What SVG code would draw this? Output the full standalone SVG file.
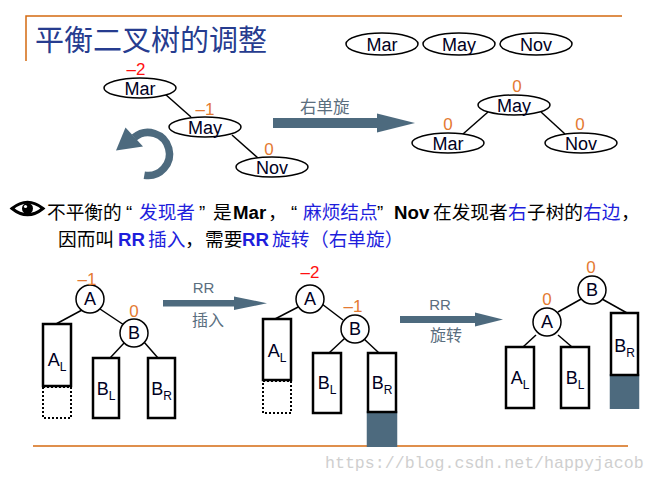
<svg xmlns="http://www.w3.org/2000/svg" width="655" height="480" viewBox="0 0 655 480">
<style>
.cjk{font-family:"Noto Sans CJK SC","Liberation Sans",sans-serif}
.lat{font-family:"Liberation Sans","Noto Sans CJK SC",sans-serif}
.ell{fill:#fff;stroke:#000;stroke-width:1.5}
.cir{fill:#fff;stroke:#000;stroke-width:1.5}
.box{fill:#fff;stroke:#000;stroke-width:2.5}
.dot{fill:none;stroke:#000;stroke-width:2;stroke-dasharray:2 2}
.fillbox{fill:#4D6A7E}
.edge{stroke:#000;stroke-width:1.5;fill:none}
.nm{font-family:"Liberation Sans",sans-serif;font-size:18px;fill:#000022;text-anchor:middle}
.bal{font-family:"Liberation Sans",sans-serif;font-size:17px;text-anchor:middle}
.red{fill:#FF1010}
.org{fill:#E47A32}
.lbl{font-family:"Liberation Sans",sans-serif;font-size:18px;fill:#000022;text-anchor:middle}
.sub{font-size:12px}
.arr{fill:#4D6A7E}
.arrtxt{fill:#5A6E7E}
.orl{stroke:#D46A10;stroke-width:1.5;fill:none}
.t{font-size:18.7px}
.k{fill:#000}
.b{fill:#1E1EDC}
.bold{font-weight:bold}
</style>
<rect width="655" height="480" fill="#fff"/>

<!-- frame lines -->
<path class="orl" d="M26,61 V16 H622"/>
<path class="orl" d="M33,446 H628"/>

<!-- title -->
<text id="title" class="cjk" x="35" y="51" font-size="29" fill="#263C8F">平衡二叉树的调整</text>

<!-- top legend -->
<g id="legend-mar"><ellipse class="ell" cx="382" cy="44" rx="36" ry="11"/><text class="nm" x="382" y="51">Mar</text></g>
<g id="legend-may"><ellipse class="ell" cx="459" cy="44" rx="36" ry="11"/><text class="nm" x="459" y="51">May</text></g>
<g id="legend-nov"><ellipse class="ell" cx="536" cy="44" rx="36" ry="11"/><text class="nm" x="536" y="51">Nov</text></g>

<!-- connectors -->
<g id="connectors">
  <line class="edge" x1="165" y1="94" x2="191" y2="117"/>
  <line class="edge" x1="232" y1="135" x2="258" y2="158"/>
  <line class="edge" x1="488" y1="112" x2="463" y2="134"/>
  <line class="edge" x1="541" y1="112" x2="565" y2="134"/>
  <line class="edge" x1="82" y1="310" x2="56" y2="324"/>
  <line class="edge" x1="100" y1="309" x2="124" y2="325"/>
  <line class="edge" x1="125" y1="342" x2="110" y2="358"/>
  <line class="edge" x1="144" y1="342" x2="158" y2="358"/>
  <line class="edge" x1="302" y1="305" x2="275" y2="319"/>
  <line class="edge" x1="322" y1="304" x2="343" y2="320"/>
  <line class="edge" x1="345" y1="338" x2="329" y2="353"/>
  <line class="edge" x1="363" y1="338" x2="379" y2="353"/>
  <line class="edge" x1="583" y1="298" x2="558" y2="312"/>
  <line class="edge" x1="602" y1="299" x2="627" y2="313"/>
  <line class="edge" x1="536" y1="335" x2="523" y2="347"/>
  <line class="edge" x1="558" y1="335" x2="572" y2="347"/>
</g>

<!-- left tree (before) -->
<g id="l-mar"><ellipse class="ell" cx="140" cy="88" rx="36" ry="10"/><text class="nm" x="140" y="95">Mar</text><text class="bal red" x="136" y="75">–2</text></g>
<g id="l-may"><ellipse class="ell" cx="205" cy="127" rx="36" ry="10"/><text class="nm" x="205" y="134">May</text><text class="bal org" x="205" y="115">–1</text></g>
<g id="l-nov"><ellipse class="ell" cx="272" cy="167" rx="36" ry="10"/><text class="nm" x="272" y="174">Nov</text><text class="bal org" x="269" y="155">0</text></g>

<!-- rotate icon -->
<g id="rotate-icon">
  <path d="M134.2,137.5 A21.5,21.5 0 1 1 144.3,175.2" fill="none" stroke="#4D6A7E" stroke-width="7.5"/>
  <polygon class="arr" points="125.5,127.5 143,146.5 116,150.5"/>
</g>

<!-- arrow right single rotation -->
<g id="arrow-rot">
  <rect class="arr" x="273" y="118" width="105" height="10"/>
  <polygon class="arr" points="377,113.5 415,123 377,132.5"/>
  <text class="cjk arrtxt" x="300" y="113" font-size="16.5">右单旋</text>
</g>

<!-- right tree (after) -->
<g id="r-may"><ellipse class="ell" cx="514" cy="105" rx="36" ry="10"/><text class="nm" x="514" y="112">May</text><text class="bal org" x="517" y="92">0</text></g>
<g id="r-mar"><ellipse class="ell" cx="448" cy="143" rx="36" ry="10"/><text class="nm" x="448" y="150">Mar</text><text class="bal org" x="448" y="130">0</text></g>
<g id="r-nov"><ellipse class="ell" cx="581" cy="143" rx="36" ry="10"/><text class="nm" x="581" y="150">Nov</text><text class="bal org" x="580" y="130">0</text></g>

<!-- eye icon -->
<g id="eye">
  <path d="M12,208.5 Q27.5,196 43,208.5 Q27.5,221 12,208.5 Z" fill="#fff" stroke="#000" stroke-width="3"/>
  <circle cx="27.5" cy="208.5" r="5.5" fill="#000"/>
  <circle cx="25.5" cy="206.5" r="1.6" fill="#fff"/>
</g>

<!-- explanation text -->
<g id="explain" class="t">
  <text class="cjk k" x="47" y="218.5">不平衡的</text>
  <text class="lat k" x="126" y="218.5">“</text>
  <text class="cjk b" x="139" y="218.5">发现者</text>
  <text class="lat k" x="199" y="218.5">”</text>
  <text class="cjk k" x="213" y="218.5">是</text>
  <text class="lat k bold" x="233" y="218.5">Mar</text>
  <text class="cjk k" x="268" y="218.5">，</text>
  <text class="lat k" x="291" y="218.5">“</text>
  <text class="cjk b" x="303" y="218.5">麻烦结点</text>
  <text class="lat k" x="377" y="218.5">”</text>
  <text class="lat k bold" x="394" y="218.5">Nov</text>
  <text class="cjk k" x="433" y="218.5">在发现者</text>
  <text class="cjk b" x="508" y="218.5">右</text>
  <text class="cjk k" x="527" y="218.5">子树的</text>
  <text class="cjk b" x="583" y="218.5">右边</text>
  <text class="cjk k" x="621" y="218.5">，</text>

  <text class="cjk k" x="58" y="245.5">因而叫</text>
  <text class="lat b bold" x="118" y="245.5">RR</text>
  <text class="cjk b" x="148" y="245.5">插入</text>
  <text class="cjk k" x="185" y="245.5">，</text>
  <text class="cjk k" x="205" y="245.5">需要</text>
  <text class="lat b bold" x="242" y="245.5">RR</text>
  <text class="cjk b" x="272" y="245.5">旋转</text>
  <text class="cjk b" x="310" y="245.5">（右单旋）</text>
</g>

<!-- tree 1 -->
<g id="t1-a"><circle class="cir" cx="90" cy="299" r="14"/><text class="lbl" x="90" y="305" font-size="16">A</text><text class="bal org" x="87" y="285">–1</text></g>
<g id="t1-b"><circle class="cir" cx="134" cy="333" r="14"/><text class="lbl" x="134" y="339" font-size="16">B</text><text class="bal org" x="134" y="317">0</text></g>
<g id="t1-al"><rect class="box" x="43" y="324" width="28" height="62"/><rect class="dot" x="43" y="387" width="28" height="31"/><text class="lbl" x="57" y="366">A<tspan class="sub" dy="5">L</tspan></text></g>
<g id="t1-bl"><rect class="box" x="93" y="358" width="26" height="60"/><text class="lbl" x="106" y="395">B<tspan class="sub" dy="5">L</tspan></text></g>
<g id="t1-br"><rect class="box" x="148" y="358" width="27" height="60"/><text class="lbl" x="161.5" y="395">B<tspan class="sub" dy="5">R</tspan></text></g>

<!-- arrow RR insert -->
<g id="arrow-insert">
  <rect class="arr" x="163" y="300" width="73" height="6.5"/>
  <polygon class="arr" points="234,296.5 267,303.2 234,310"/>
  <text class="lat arrtxt" x="203.5" y="293" font-size="15" text-anchor="middle">RR</text>
  <text class="cjk arrtxt" x="208" y="326" font-size="16" text-anchor="middle">插入</text>
</g>

<!-- tree 2 -->
<g id="t2-a"><circle class="cir" cx="310" cy="299" r="14"/><text class="lbl" x="310" y="305" font-size="16">A</text><text class="bal red" x="310" y="278">–2</text></g>
<g id="t2-b"><circle class="cir" cx="355" cy="329" r="14"/><text class="lbl" x="355" y="335" font-size="16">B</text><text class="bal org" x="353" y="312">–1</text></g>
<g id="t2-al"><rect class="box" x="263" y="319" width="28" height="61"/><rect class="dot" x="263" y="381" width="28" height="32"/><text class="lbl" x="277" y="357">A<tspan class="sub" dy="5">L</tspan></text></g>
<g id="t2-bl"><rect class="box" x="313" y="353" width="28" height="60"/><text class="lbl" x="327" y="389">B<tspan class="sub" dy="5">L</tspan></text></g>
<g id="t2-br"><rect class="fillbox" x="366.75" y="411" width="30.5" height="36"/><rect class="box" x="368" y="353" width="28" height="59"/><text class="lbl" x="382" y="389">B<tspan class="sub" dy="5">R</tspan></text></g>

<!-- arrow RR rotate -->
<g id="arrow-rotate">
  <rect class="arr" x="400" y="316" width="76" height="7"/>
  <polygon class="arr" points="475,312.5 503,319.5 475,326.5"/>
  <text class="lat arrtxt" x="440" y="310" font-size="15" text-anchor="middle">RR</text>
  <text class="cjk arrtxt" x="446" y="341" font-size="16" text-anchor="middle">旋转</text>
</g>

<!-- tree 3 -->
<g id="t3-b"><circle class="cir" cx="592" cy="290" r="14"/><text class="lbl" x="592" y="296" font-size="16">B</text><text class="bal org" x="591" y="273">0</text></g>
<g id="t3-a"><circle class="cir" cx="547" cy="322" r="14"/><text class="lbl" x="547" y="328" font-size="16">A</text><text class="bal org" x="547" y="305">0</text></g>
<g id="t3-al"><rect class="box" x="506" y="347" width="28" height="61"/><text class="lbl" x="520" y="384">A<tspan class="sub" dy="5">L</tspan></text></g>
<g id="t3-bl"><rect class="box" x="561" y="347" width="28" height="61"/><text class="lbl" x="575" y="384">B<tspan class="sub" dy="5">L</tspan></text></g>
<g id="t3-br"><rect class="fillbox" x="609.75" y="374" width="29.5" height="35"/><rect class="box" x="611" y="313" width="27" height="62"/><text class="lbl" x="624.5" y="352">B<tspan class="sub" dy="5">R</tspan></text></g>

<!-- watermark -->
<text id="watermark" x="325" y="468" font-family="Liberation Mono, monospace" font-size="16.6" fill="#cfcfcf">https://blog.csdn.net/happyjacob</text>
</svg>
